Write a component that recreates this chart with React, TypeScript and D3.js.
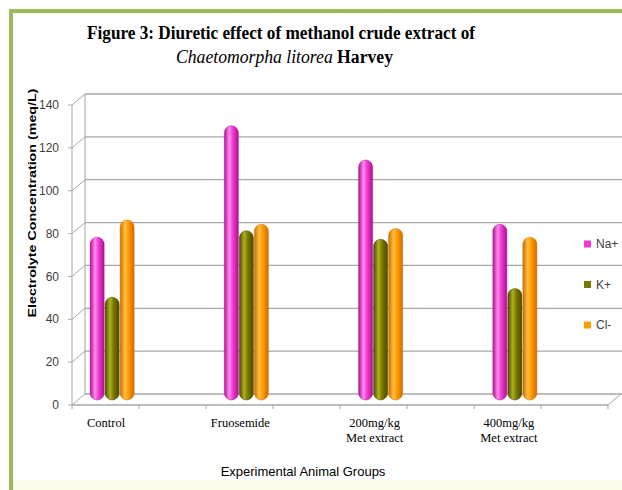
import React from 'react';
import { scaleBand, scaleLinear } from 'd3';

const categories = ['Control', 'Fruosemide', '200mg/kg', '400mg/kg'];
const categorySub = ['', '', 'Met extract', 'Met extract'];
const series = ['Na+', 'K+', 'Cl-'];
const naValues = [76, 128, 112, 82];
const kValues = [48, 79, 75, 52];
const clValues = [84, 82, 80, 76];
const yTicks = [0, 20, 40, 60, 80, 100, 120, 140];

// base / light / dark for cylinder shading
const colors = [
  ['#f03cd0', '#ff8cf0', '#b0108e'],
  ['#7a7a00', '#b0b020', '#4a4a00'],
  ['#ff9a00', '#ffc040', '#d06c00'],
];

const App = () => {
  const width = 622;
  const height = 490;
  const values = [naValues, kValues, clValues];

  const depthX = 13;
  const depthY = -11;
  const axisX = 72;
  const floorRight = 608;

  const yFront = scaleLinear().domain([0, 140]).range([405, 105]);
  const yBar = scaleLinear().domain([0, 140]).range([400, 100]);

  const xBand = scaleBand().domain(categories).range([45, 582]).padding(0);
  const inner = scaleBand().domain(series).range([-22.5, 22.5]).padding(0);
  const barW = 14;

  const floorTicks = scaleLinear().domain([0, 8]).range([axisX, floorRight]);

  return (
    <svg width={width} height={height} style={{ position: 'absolute', left: 0, top: 0 }}>
      <defs>
        {colors.map((c, i) => (
          <linearGradient key={`g-${i}`} id={`cyl-${i}`} x1="0" x2="1" y1="0" y2="0">
            <stop offset="0%" stopColor={c[2]} />
            <stop offset="35%" stopColor={c[1]} />
            <stop offset="60%" stopColor={c[0]} />
            <stop offset="100%" stopColor={c[2]} />
          </linearGradient>
        ))}
      </defs>
      <rect x={0} y={0} width={width} height={height} fill="#ffffff" />
      <rect x={13} y={480} width={width} height={10} fill="#fdfdec" />
      <rect x={9} y={9} width={width} height={4} fill="#9bbb59" />
      <rect x={9} y={9} width={4} height={height} fill="#9bbb59" />

      {/* title */}
      <text x={87} y={39} fontFamily="'Liberation Serif', serif" fontSize={18} fontWeight="bold"
        textLength={388} lengthAdjust="spacingAndGlyphs" fill="#000">
        Figure 3: Diuretic effect of methanol crude extract of
      </text>
      <text x={176} y={63} fontFamily="'Liberation Serif', serif" fontSize={18}
        textLength={217} lengthAdjust="spacingAndGlyphs" fill="#000">
        <tspan fontStyle="italic">Chaetomorpha litorea</tspan>
        <tspan fontWeight="bold"> Harvey</tspan>
      </text>

      {/* back wall gridlines */}
      {yTicks.map(t => (
        <g key={`grid-${t}`}>
          <line x1={axisX + depthX} x2={width} y1={yFront(t) + depthY} y2={yFront(t) + depthY}
            stroke="#a6a6a6" strokeWidth={1.3} />
          <line x1={axisX} x2={axisX + depthX} y1={yFront(t)} y2={yFront(t) + depthY}
            stroke="#a6a6a6" strokeWidth={1} />
          <line x1={axisX - 4} x2={axisX} y1={yFront(t)} y2={yFront(t)} stroke="#a6a6a6" strokeWidth={1} />
          <text x={59} y={yFront(t)} dy="0.35em" textAnchor="end"
            fontFamily="'Liberation Sans', sans-serif" fontSize={12} fill="#404040">
            {t}
          </text>
        </g>
      ))}
      <line x1={axisX + depthX} x2={axisX + depthX} y1={yFront(140) + depthY} y2={yFront(0) + depthY}
        stroke="#a6a6a6" strokeWidth={1} />
      <line x1={axisX} x2={axisX} y1={yFront(140)} y2={yFront(0)} stroke="#a6a6a6" strokeWidth={1} />

      {/* floor */}
      <line x1={axisX} x2={floorRight} y1={yFront(0)} y2={yFront(0)} stroke="#a6a6a6" strokeWidth={1.3} />
      <line x1={floorRight} x2={floorRight + depthX} y1={yFront(0)} y2={yFront(0) + depthY}
        stroke="#a6a6a6" strokeWidth={1} />
      {floorTicks.ticks(8).map(k => (
        <line key={`ft-${k}`} x1={floorTicks(k)} x2={floorTicks(k)} y1={yFront(0)} y2={yFront(0) + 4}
          stroke="#a6a6a6" strokeWidth={1} />
      ))}

      {/* bars */}
      {categories.map((c, ci) => {
        const cx = (xBand(c) as number) + xBand.bandwidth() / 2;
        return (
          <g key={`cat-${c}`}>
            {series.map((s, si) => {
              const v = values[si][ci];
              const bx = cx + (inner(s) as number) + inner.bandwidth() / 2 - barW / 2;
              return (
                <rect key={`bar-${c}-${s}`} x={bx} y={yBar(v)} width={barW}
                  height={yBar(0) - yBar(v)} rx={barW / 2} ry={barW / 2}
                  fill={`url(#cyl-${si})`} stroke={colors[si][2]} strokeWidth={0.5} />
              );
            })}
            <text x={cx - 6} y={427} textAnchor="middle" fontFamily="'Liberation Serif', serif"
              fontSize={12.5} fill="#000">
              {c}
            </text>
            {categorySub[ci] && (
              <text x={cx - 6} y={442} textAnchor="middle" fontFamily="'Liberation Serif', serif"
                fontSize={12.5} fill="#000">
                {categorySub[ci]}
              </text>
            )}
          </g>
        );
      })}

      {/* legend */}
      {series.map((s, si) => (
        <g key={`leg-${s}`} transform={`translate(584, ${244 + si * 40.5})`}>
          <rect x={0} y={-3.5} width={7} height={7} fill={colors[si][0]} />
          <text x={12} y={0} dy="0.35em" fontFamily="'Liberation Sans', sans-serif" fontSize={12}
            fill="#404040">
            {s}
          </text>
        </g>
      ))}

      {/* axis titles */}
      <text transform="translate(36, 203) rotate(-90)" textAnchor="middle"
        fontFamily="'Liberation Sans', sans-serif" fontSize={11} fontWeight="bold" fill="#000"
        textLength={229} lengthAdjust="spacingAndGlyphs">
        Electrolyte Concentration (meq/L)
      </text>
      <text x={303} y={476} textAnchor="middle" fontFamily="'Liberation Sans', sans-serif"
        fontSize={13} fill="#000">
        Experimental Animal Groups
      </text>
    </svg>
  );
};

export default App;
